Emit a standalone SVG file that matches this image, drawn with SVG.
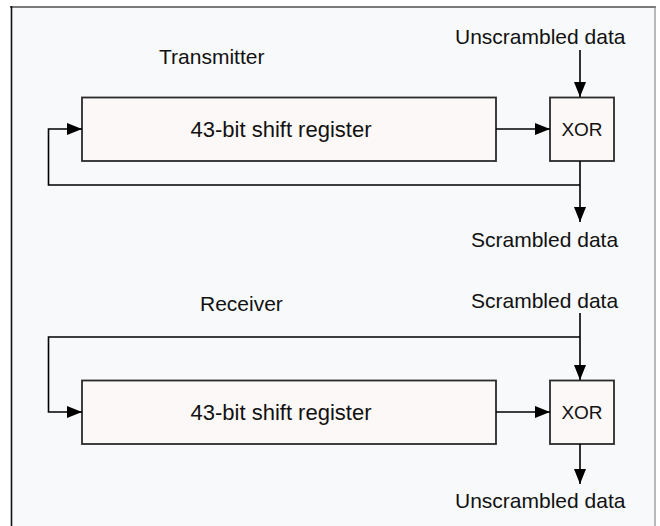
<svg xmlns="http://www.w3.org/2000/svg" width="660" height="526" viewBox="0 0 660 526">
  <style>
    .box { fill: #fcf8f7; stroke: #2a2a2a; stroke-width: 1.8; }
    .wire { fill: none; stroke: #000; stroke-width: 1.6; }
    text { font-family: "Liberation Sans", Arial, sans-serif; fill: #111; }
    .lbl { font-size: 21px; }
    .reg { font-size: 22px; text-anchor: middle; }
    .xor { font-size: 19px; text-anchor: middle; }
  </style>
  <defs>
    <marker id="arrow" markerWidth="15" markerHeight="12" refX="15" refY="6" orient="auto" markerUnits="userSpaceOnUse">
      <path d="M0,0 L15,6 L0,12 Z" fill="#000"/>
    </marker>
  </defs>
  <rect x="0" y="0" width="660" height="526" fill="#ffffff"/>
  <rect x="11" y="7" width="644" height="519" fill="#f8f9fb"/>
  <line x1="10" y1="7" x2="656" y2="7" stroke="#7a7a7a" stroke-width="2.2"/>
  <line x1="11.5" y1="6" x2="11.5" y2="526" stroke="#111" stroke-width="1.6"/>
  <line x1="655" y1="6" x2="655" y2="526" stroke="#8a8a8a" stroke-width="1.2"/>

  <g id="transmitter-label"><text class="lbl" x="159" y="64">Transmitter</text></g>
  <g id="tx-in-label"><text class="lbl" x="455" y="44">Unscrambled data</text></g>
  <g id="tx-out-label"><text class="lbl" x="471" y="247">Scrambled data</text></g>
  <g id="tx-register">
    <rect class="box" x="82" y="97.5" width="414" height="63.5"/>
    <text class="reg" x="281" y="137">43-bit shift register</text>
  </g>
  <g id="tx-xor">
    <rect class="box" x="550" y="97.5" width="64" height="63.5"/>
    <text class="xor" x="582" y="136">XOR</text>
  </g>

  <g id="receiver-label"><text class="lbl" x="200" y="311">Receiver</text></g>
  <g id="rx-in-label"><text class="lbl" x="471" y="308">Scrambled data</text></g>
  <g id="rx-out-label"><text class="lbl" x="455" y="508">Unscrambled data</text></g>
  <g id="rx-register">
    <rect class="box" x="82" y="380.5" width="414" height="63.5"/>
    <text class="reg" x="281" y="420">43-bit shift register</text>
  </g>
  <g id="rx-xor">
    <rect class="box" x="550" y="380.5" width="64" height="63.5"/>
    <text class="xor" x="582" y="419">XOR</text>
  </g>

  <g id="connectors">
    <line class="wire" x1="580" y1="50" x2="580" y2="97" marker-end="url(#arrow)"/>
    <line class="wire" x1="496" y1="129" x2="550" y2="129" marker-end="url(#arrow)"/>
    <line class="wire" x1="580" y1="161" x2="580" y2="222" marker-end="url(#arrow)"/>
    <polyline class="wire" points="580,185 48.5,185 48.5,129 82,129" marker-end="url(#arrow)"/>

    <line class="wire" x1="580" y1="313" x2="580" y2="380" marker-end="url(#arrow)"/>
    <polyline class="wire" points="580,337 48.5,337 48.5,412 82,412" marker-end="url(#arrow)"/>
    <line class="wire" x1="496" y1="412" x2="550" y2="412" marker-end="url(#arrow)"/>
    <line class="wire" x1="580" y1="444" x2="580" y2="484" marker-end="url(#arrow)"/>
  </g>
</svg>
